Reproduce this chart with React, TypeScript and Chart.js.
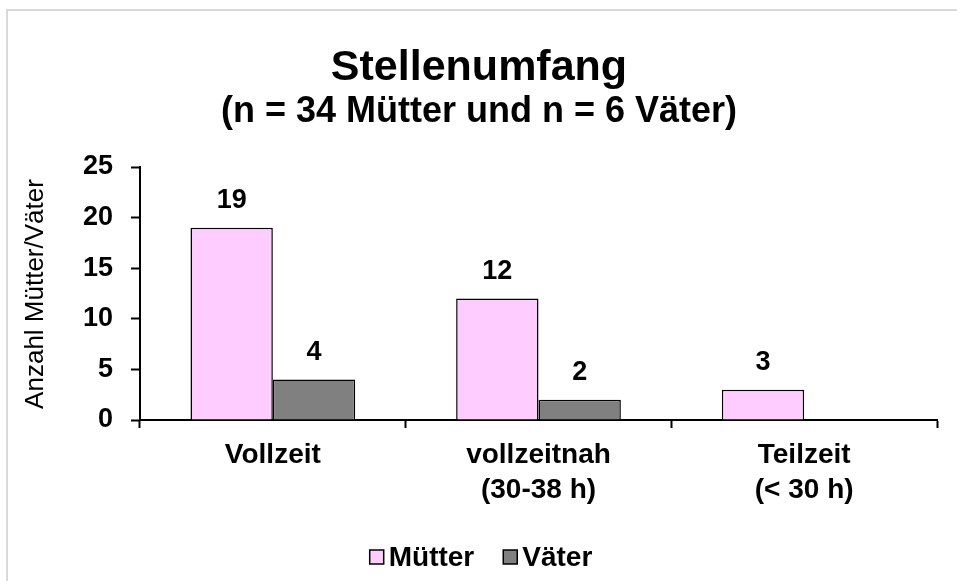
import React, { useEffect, useRef } from "react";
import { Chart, registerables } from "chart.js";

Chart.register(...registerables);

const categories: (string | string[])[] = ["Vollzeit", ["vollzeitnah", "(30-38 h)"], ["Teilzeit", "(< 30 h)"]];
const muetter = [19, 12, 3];
const vaeter = [4, 2, 0];
const seriesNames = ["Mütter", "Väter"];
const yTicks = [0, 5, 10, 15, 20, 25];
const titleText = "Stellenumfang";
const subtitleText = "(n = 34 Mütter und n = 6 Väter)";
const yTitle = "Anzahl Mütter/Väter";

const FONT = '"Liberation Sans", Arial, sans-serif';
const PINK = "#FFCCFF";
const GRAY = "#808080";

const decorPlugin = {
  id: "decor",
  beforeDraw(chart: any) {
    const ctx = chart.ctx;
    ctx.save();
    ctx.fillStyle = "#ffffff";
    ctx.fillRect(0, 0, chart.width, chart.height);
    ctx.strokeStyle = "#d9d9d9";
    ctx.lineWidth = 2;
    ctx.beginPath();
    ctx.moveTo(7, chart.height + 5);
    ctx.lineTo(7, 10);
    ctx.lineTo(chart.width + 5, 10);
    ctx.stroke();
    ctx.restore();
  },
  afterDraw(chart: any) {
    const ctx = chart.ctx;
    ctx.save();
    ctx.fillStyle = "#000";
    ctx.textAlign = "center";
    ctx.textBaseline = "middle";
    ctx.font = `bold 43px ${FONT}`;
    ctx.fillText(titleText, 479, 68);
    ctx.font = `bold 36px ${FONT}`;
    ctx.fillText(subtitleText, 479, 112);

    // y-axis title
    ctx.save();
    ctx.translate(36, 294);
    ctx.rotate(-Math.PI / 2);
    ctx.font = `26px ${FONT}`;
    ctx.fillText(yTitle, 0, 0);
    ctx.restore();

    // data labels
    ctx.font = `bold 27px ${FONT}`;
    chart.data.datasets.forEach((ds: any, di: number) => {
      const meta = chart.getDatasetMeta(di);
      meta.data.forEach((bar: any, i: number) => {
        const v = ds.data[i];
        if (!v) return;
        ctx.fillText(String(v), bar.x, bar.y - 27);
      });
    });

    // legend
    ctx.font = `bold 28px ${FONT}`;
    const colors = [PINK, GRAY];
    const box = 14;
    const gapBox = 5;
    const gapItem = 29;
    const widths = seriesNames.map((n) => ctx.measureText(n).width);
    const total = widths.reduce((a, w) => a + box + gapBox + w, 0) + gapItem * (seriesNames.length - 1);
    let x = 481 - total / 2;
    const cy = 557;
    ctx.textAlign = "left";
    seriesNames.forEach((n, i) => {
      ctx.fillStyle = colors[i];
      ctx.fillRect(x, cy - box / 2, box, box);
      ctx.strokeStyle = "#000";
      ctx.lineWidth = 1.5;
      ctx.strokeRect(x, cy - box / 2, box, box);
      ctx.fillStyle = "#000";
      ctx.fillText(n, x + box + gapBox, cy + 1);
      x += box + gapBox + widths[i] + gapItem;
    });
    ctx.restore();
  },
};

export default function App() {
  const ref = useRef<HTMLCanvasElement | null>(null);
  useEffect(() => {
    document.body.style.margin = "0";
    const chart = new Chart(ref.current as HTMLCanvasElement, {
      type: "bar",
      data: {
        labels: categories as any,
        datasets: [
          {
            label: seriesNames[0],
            data: muetter,
            backgroundColor: PINK,
            borderColor: "#000",
            borderWidth: 1.5,
            categoryPercentage: 0.62,
            barPercentage: 1,
          },
          {
            label: seriesNames[1],
            data: vaeter,
            backgroundColor: GRAY,
            borderColor: "#000",
            borderWidth: 1.5,
            categoryPercentage: 0.62,
            barPercentage: 1,
          },
        ],
      },
      options: {
        responsive: false,
        animation: false,
        layout: { padding: { top: 167, right: 20, left: 0, bottom: 0 } },
        plugins: {
          legend: { display: false },
          title: { display: false },
          tooltip: { enabled: false },
        },
        scales: {
          x: {
            afterFit: (s: any) => {
              s.height = 161;
            },
            grid: {
              offset: true,
              drawOnChartArea: false,
              drawTicks: true,
              tickLength: 8,
              tickColor: "#000",
              tickWidth: 2,
            },
            border: { color: "#000", width: 2 },
            ticks: {
              color: "#000",
              padding: 10,
              font: { family: FONT, size: 28, weight: "bold", lineHeight: 1.25 },
              maxRotation: 0,
              autoSkip: false,
            },
          },
          y: {
            min: 0,
            max: 25,
            afterFit: (s: any) => {
              s.width = 140;
            },
            afterBuildTicks: (s: any) => {
              s.ticks = yTicks.map((v) => ({ value: v }));
            },
            grid: {
              drawOnChartArea: false,
              drawTicks: true,
              tickLength: 9,
              tickColor: "#000",
              tickWidth: 2,
            },
            border: { color: "#000", width: 2 },
            ticks: {
              color: "#000",
              padding: 18,
              font: { family: FONT, size: 27, weight: "bold" },
            },
          },
        },
      },
      plugins: [decorPlugin],
    } as any);
    return () => chart.destroy();
  }, []);
  return (
    <div style={{ position: "fixed", left: 0, top: 0, width: 957, height: 581 }}>
      <canvas ref={ref} width={957} height={581} style={{ display: "block" }} />
    </div>
  );
}
